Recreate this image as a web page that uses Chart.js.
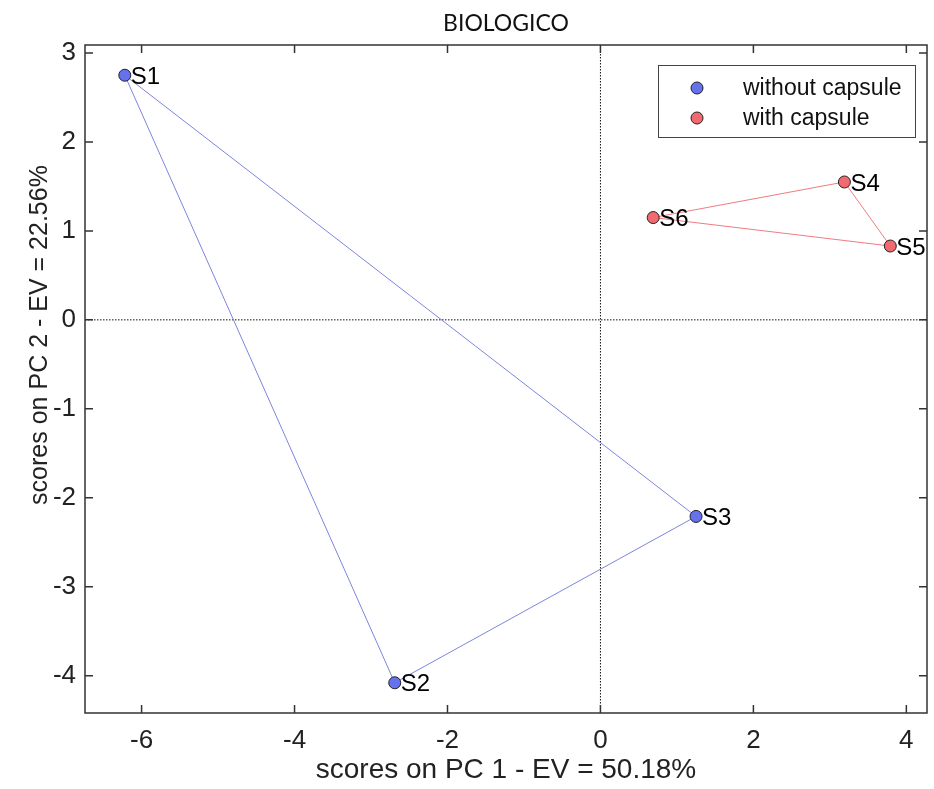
<!DOCTYPE html>
<html>
<head>
<meta charset="utf-8">
<script src="https://cdn.jsdelivr.net/npm/chart.js@4.4.1/dist/chart.umd.min.js"></script>
<style>
  html, body { margin: 0; padding: 0; background: #fff; }
  #wrap { width: 934px; height: 789px; }
</style>
</head>
<body>
<div id="wrap"><canvas id="pca"></canvas></div>
<script>
// PCA scores
const withoutLabels = ['S1', 'S2', 'S3'];
const withoutPc1 = [-6.22, -2.69, 1.25];
const withoutPc2 = [2.75, -4.08, -2.21];

const withLabels = ['S4', 'S5', 'S6'];
const withPc1 = [3.19, 3.79, 0.69];
const withPc2 = [1.55, 0.83, 1.15];

const groupNames = ['without capsule', 'with capsule'];
const yTitle = 'scores on PC 2 - EV = 22.56%';

const xRange = [-6.74, 4.27];
const yRange = [-4.42, 3.09];

const FONT = "'Liberation Sans', Arial, sans-serif";
const BLUE = '#6671ee';
const BLUE_LINE = '#7c86dc';
const RED = '#f26a6f';
const RED_LINE = '#ee7c82';

// closed polygon: first point appended at the end
const toPoints = (xs, ys, close) => {
  const pts = xs.map((x, i) => ({ x, y: ys[i] }));
  if (close) pts.push(pts[0]);
  return pts;
};

const frameAndTicks = {
  id: 'frameAndTicks',
  beforeDatasetsDraw(chart) {
    const { ctx, chartArea: a, scales: { x, y } } = chart;
    ctx.save();
    // zero lines
    ctx.strokeStyle = '#111';
    ctx.lineWidth = 1;
    ctx.setLineDash([1.5, 1.5]);
    const x0 = x.getPixelForValue(0);
    const y0 = y.getPixelForValue(0);
    ctx.beginPath();
    ctx.moveTo(x0, a.top); ctx.lineTo(x0, a.bottom);
    ctx.moveTo(a.left, y0); ctx.lineTo(a.right, y0);
    ctx.stroke();
    ctx.restore();
  },
  afterDatasetsDraw(chart) {
    const { ctx, chartArea: a, scales: { x, y } } = chart;
    ctx.save();
    ctx.strokeStyle = '#333';
    ctx.lineWidth = 1.5;
    ctx.strokeRect(a.left, a.top, a.right - a.left, a.bottom - a.top);
    const len = 8;
    ctx.beginPath();
    x.ticks.forEach(t => {
      const px = x.getPixelForValue(t.value);
      ctx.moveTo(px, a.bottom); ctx.lineTo(px, a.bottom - len);
      ctx.moveTo(px, a.top); ctx.lineTo(px, a.top + len);
    });
    y.ticks.forEach(t => {
      const py = y.getPixelForValue(t.value);
      ctx.moveTo(a.left, py); ctx.lineTo(a.left + len, py);
      ctx.moveTo(a.right, py); ctx.lineTo(a.right - len, py);
    });
    ctx.stroke();

    // y axis title, sits a bit above the axis centre in the original
    ctx.save();
    ctx.translate(40, 335);
    ctx.rotate(-Math.PI / 2);
    ctx.fillStyle = '#222';
    ctx.font = '25px ' + FONT;
    ctx.textAlign = 'center';
    ctx.textBaseline = 'middle';
    ctx.fillText(yTitle, 0, 0);
    ctx.restore();

    // sample names next to the markers
    ctx.fillStyle = '#000';
    ctx.font = '24px ' + FONT;
    ctx.textBaseline = 'middle';
    ctx.textAlign = 'left';
    chart.data.datasets.forEach(ds => {
      if (!ds.names) return;
      ds.data.forEach((p, i) => {
        if (!ds.names[i]) return;
        ctx.fillText(ds.names[i], x.getPixelForValue(p.x) + 6, y.getPixelForValue(p.y) + 2);
      });
    });

    // legend box
    const lx = 658, ly = 65, lw = 257, lh = 72;
    ctx.fillStyle = '#fff';
    ctx.fillRect(lx, ly, lw, lh);
    ctx.strokeStyle = '#444';
    ctx.lineWidth = 1;
    ctx.strokeRect(lx + 0.5, ly + 0.5, lw, lh);
    const cols = [BLUE, RED];
    groupNames.forEach((name, i) => {
      const cy = ly + 23 + i * 30;
      ctx.beginPath();
      ctx.arc(lx + 39, cy, 6, 0, Math.PI * 2);
      ctx.fillStyle = cols[i];
      ctx.fill();
      ctx.strokeStyle = '#222';
      ctx.lineWidth = 1;
      ctx.stroke();
      ctx.fillStyle = '#111';
      ctx.font = '23px ' + FONT;
      ctx.fillText(name, lx + 85, cy + 1);
    });
    ctx.restore();
  }
};

new Chart(document.getElementById('pca'), {
  type: 'scatter',
  data: {
    datasets: [
      {
        label: groupNames[0],
        data: toPoints(withoutPc1, withoutPc2, true),
        names: withoutLabels,
        showLine: true,
        borderColor: BLUE_LINE,
        borderWidth: 1,
        pointRadius: [6, 6, 6, 0],
        pointBackgroundColor: BLUE,
        pointBorderColor: '#222',
        pointBorderWidth: 1
      },
      {
        label: groupNames[1],
        data: toPoints(withPc1, withPc2, true),
        names: withLabels,
        showLine: true,
        borderColor: RED_LINE,
        borderWidth: 1,
        pointRadius: [6, 6, 6, 0],
        pointBackgroundColor: RED,
        pointBorderColor: '#222',
        pointBorderWidth: 1
      }
    ]
  },
  options: {
    responsive: true,
    maintainAspectRatio: false,
    animation: false,
    layout: { padding: { top: 0, right: 5, left: 0, bottom: 0 } },
    plugins: {
      legend: { display: false },
      tooltip: { enabled: false },
      title: {
        display: true,
        text: 'BIOLOGICO',
        fullSize: false,
        color: '#111',
        font: { family: "Lato, 'Open Sans', sans-serif", size: 23, weight: 'normal' },
        padding: { top: 10, bottom: 7.4 }
      }
    },
    scales: {
      x: {
        type: 'linear',
        min: xRange[0],
        max: xRange[1],
        grid: { display: false, drawTicks: false },
        border: { display: false },
        ticks: {
          stepSize: 2,
          includeBounds: false,
          color: '#222',
          padding: 12,
          maxRotation: 0,
          font: { family: FONT, size: 26 }
        },
        title: {
          display: true,
          text: 'scores on PC 1 - EV = 50.18%',
          color: '#222',
          font: { family: FONT, size: 28 },
          padding: { top: 0, bottom: 2 }
        },
        afterFit: s => { s.height = 76; }
      },
      y: {
        type: 'linear',
        min: yRange[0],
        max: yRange[1],
        grid: { display: false, drawTicks: false },
        border: { display: false },
        ticks: {
          stepSize: 1,
          includeBounds: false,
          color: '#222',
          padding: 9,
          font: { family: FONT, size: 26 }
        },
        title: { display: false },
        afterFit: s => { s.width = 85; }
      }
    }
  },
  plugins: [frameAndTicks]
});
</script>
</body>
</html>
